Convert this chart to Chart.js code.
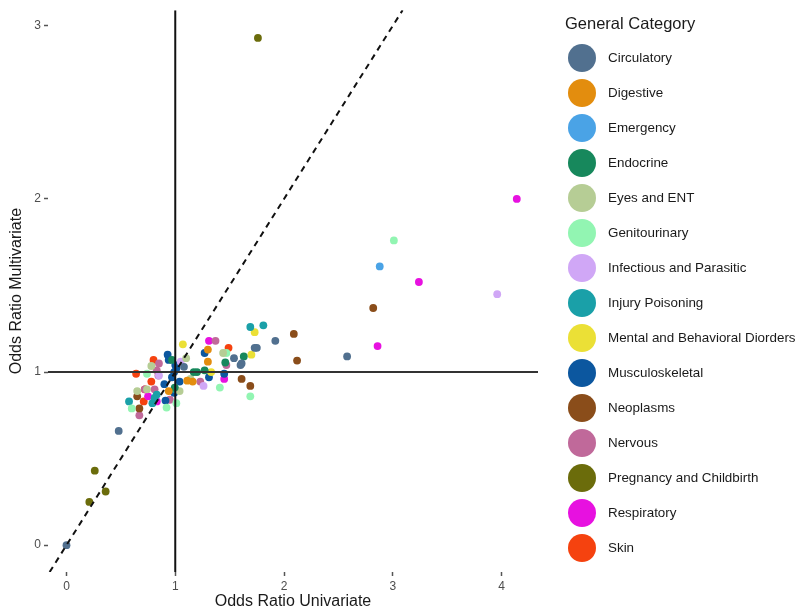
<!DOCTYPE html>
<html>
<head>
<meta charset="utf-8">
<script src="https://cdn.jsdelivr.net/npm/chart.js@4"></script>
<style>
  body { margin: 0; background: #fff; }
  #wrap { position: relative; width: 800px; height: 614px; }
  #legend { position: absolute; left: 557px; top: 9px; font-family: "Liberation Sans", Arial, sans-serif; color: #1a1a1a; }
  #legend .title { font-size: 16.5px; margin-left: 8px; height: 31px; line-height: 28px; }
  #legend .item { display: flex; align-items: center; height: 35px; }
  #legend .dot { width: 28px; height: 28px; border-radius: 50%; margin-left: 11px; margin-right: 12px; }
  #legend .lab { font-size: 13.4px; }
</style>
</head>
<body>
<div id="wrap">
  <canvas id="chart" width="800" height="614"></canvas>
  <div id="legend"></div>
</div>
<script>
// axis ticks
const xTicks = [0, 1, 2, 3, 4];
const yTicks = [0, 1, 2, 3];
const xMin = -0.17, xMax = 4.335;
const yMin = -0.155, yMax = 3.09;

const categories = ['Circulatory', 'Digestive', 'Emergency', 'Endocrine', 'Eyes and ENT', 'Genitourinary',
  'Infectious and Parasitic', 'Injury Poisoning', 'Mental and Behavioral Diorders', 'Musculoskeletal',
  'Neoplasms', 'Nervous', 'Pregnancy and Childbirth', 'Respiratory', 'Skin'];
const colors = ['#51708f', '#e38d0e', '#4aa3e6', '#17885c', '#b6cd95', '#92f5b2', '#d0a7f6', '#1aa0a8',
  '#ebe036', '#0c579f', '#8a4d1a', '#c0699a', '#6b6c0b', '#e711e0', '#f5420f'];

// [odds ratio univariate, odds ratio multivariate]
const circulatory = [[0, 0], [0.48, 0.66], [1.08, 1.03], [1.54, 1.08], [1.60, 1.04], [1.61, 1.05],
  [1.73, 1.14], [1.75, 1.14], [1.92, 1.18], [2.58, 1.09]];
const digestive = [[1.30, 1.13], [1.30, 1.06], [1.11, 0.95], [1.16, 0.945], [0.94, 0.89]];
const emergency = [[2.88, 1.61]];
const endocrine = [[1.63, 1.09], [1.46, 1.055], [1.17, 1.00], [1.27, 1.01], [1.20, 1.00], [0.995, 0.91], [0.97, 1.07]];
const eyesEnt = [[1.10, 1.08], [0.78, 1.035], [1.14, 0.96], [0.65, 0.89], [1.04, 0.89], [1.44, 1.11], [0.74, 0.90]];
const genitourinary = [[3.01, 1.76], [0.74, 0.99], [1.41, 0.91], [1.69, 0.86], [0.60, 0.79], [0.92, 0.795],
  [1.01, 0.82], [1.47, 1.11]];
const infectious = [[3.96, 1.45], [1.05, 1.06], [1.26, 0.92], [0.85, 0.98]];
const injury = [[1.69, 1.26], [1.81, 1.27], [0.575, 0.83], [0.79, 0.82], [0.81, 0.85], [0.83, 0.87], [1.00, 0.90]];
const mental = [[1.73, 1.23], [1.07, 1.16], [1.70, 1.10], [1.33, 1.00]];
const musculoskeletal = [[1.27, 1.11], [0.93, 1.10], [0.94, 1.07], [1.00, 1.04], [0.99, 1.00], [1.01, 1.02],
  [0.97, 0.97], [1.45, 0.99], [1.31, 0.97], [1.04, 0.945], [0.90, 0.93], [0.99, 0.88], [0.91, 0.835]];
const neoplasms = [[2.82, 1.37], [2.09, 1.22], [2.12, 1.066], [1.61, 0.96], [1.69, 0.92], [0.65, 0.86], [0.67, 0.79]];
const nervous = [[1.37, 1.18], [1.47, 1.04], [0.85, 1.05], [0.83, 1.01], [0.845, 0.98], [1.23, 0.945],
  [0.81, 0.90], [0.95, 0.84], [0.67, 0.75], [0.72, 0.90]];
const pregnancy = [[1.76, 2.93], [0.26, 0.43], [0.36, 0.31], [0.21, 0.25]];
const respiratory = [[4.14, 2.00], [3.24, 1.52], [2.86, 1.15], [1.31, 1.18], [1.45, 0.96], [0.83, 0.83], [0.75, 0.86]];
const skin = [[1.49, 1.14], [0.80, 1.07], [0.64, 0.99], [0.78, 0.945], [0.71, 0.83], [0.72, 0.90]];

const seriesData = [circulatory, digestive, emergency, endocrine, eyesEnt, genitourinary, infectious, injury,
  mental, musculoskeletal, neoplasms, nervous, pregnancy, respiratory, skin];

const font = '"Liberation Sans", Arial, sans-serif';

// reference lines: x = 1, y = 1 and the identity line
const refLines = [
  { data: [{ x: 1, y: yMin }, { x: 1, y: yMax }], borderColor: '#111', borderWidth: 2 },
  { data: [{ x: xMin, y: 1 }, { x: xMax, y: 1 }], borderColor: '#333', borderWidth: 2 },
  { data: [{ x: yMin, y: yMin }, { x: yMax, y: yMax }], borderColor: '#111', borderWidth: 2, borderDash: [6, 5] },
].map(l => ({ ...l, type: 'line', pointRadius: 0, fill: false, order: 0 }));

const pointSets = categories.map((name, i) => ({
  type: 'scatter',
  label: name,
  data: seriesData[i].map(p => ({ x: p[0], y: p[1] })),
  backgroundColor: colors[i],
  borderWidth: 0,
  pointRadius: 3.9,
  order: 1,
}));

new Chart(document.getElementById('chart'), {
  type: 'scatter',
  data: { datasets: [...refLines, ...pointSets] },
  options: {
    responsive: false,
    animation: false,
    events: [],
    layout: { padding: { top: 8, right: 262, left: 0, bottom: 0 } },
    plugins: { legend: { display: false }, tooltip: { enabled: false } },
    scales: {
      x: {
        type: 'linear',
        min: xMin, max: xMax,
        afterBuildTicks: axis => { axis.ticks = xTicks.map(v => ({ value: v })); },
        afterFit: s => { s.height = 42; },
        border: { display: false },
        grid: { drawOnChartArea: false, drawTicks: true, tickLength: 4, tickColor: '#555', tickWidth: 1.5 },
        ticks: { color: '#4d4d4d', font: { family: font, size: 12 }, padding: 3, maxRotation: 0 },
        title: { display: true, text: 'Odds Ratio Univariate', color: '#1a1a1a', font: { family: font, size: 16 }, padding: { top: 0, bottom: 3 } },
      },
      y: {
        type: 'linear',
        min: yMin, max: yMax,
        afterBuildTicks: axis => { axis.ticks = yTicks.map(v => ({ value: v })); },
        afterFit: s => { s.width = 48; },
        border: { display: false },
        grid: { drawOnChartArea: false, drawTicks: true, tickLength: 4, tickColor: '#555', tickWidth: 1.5 },
        ticks: { color: '#4d4d4d', font: { family: font, size: 12 }, padding: 3 },
        title: { display: true, text: 'Odds Ratio Multivariate', color: '#1a1a1a', font: { family: font, size: 16 }, padding: { top: 7, bottom: 0 } },
      },
    },
  },
});

// legend
const legend = document.getElementById('legend');
let html = '<div class="title">General Category</div>';
categories.forEach((name, i) => {
  html += '<div class="item"><span class="dot" style="background:' + colors[i] + '"></span><span class="lab">' + name + '</span></div>';
});
legend.innerHTML = html;
</script>
</body>
</html>
